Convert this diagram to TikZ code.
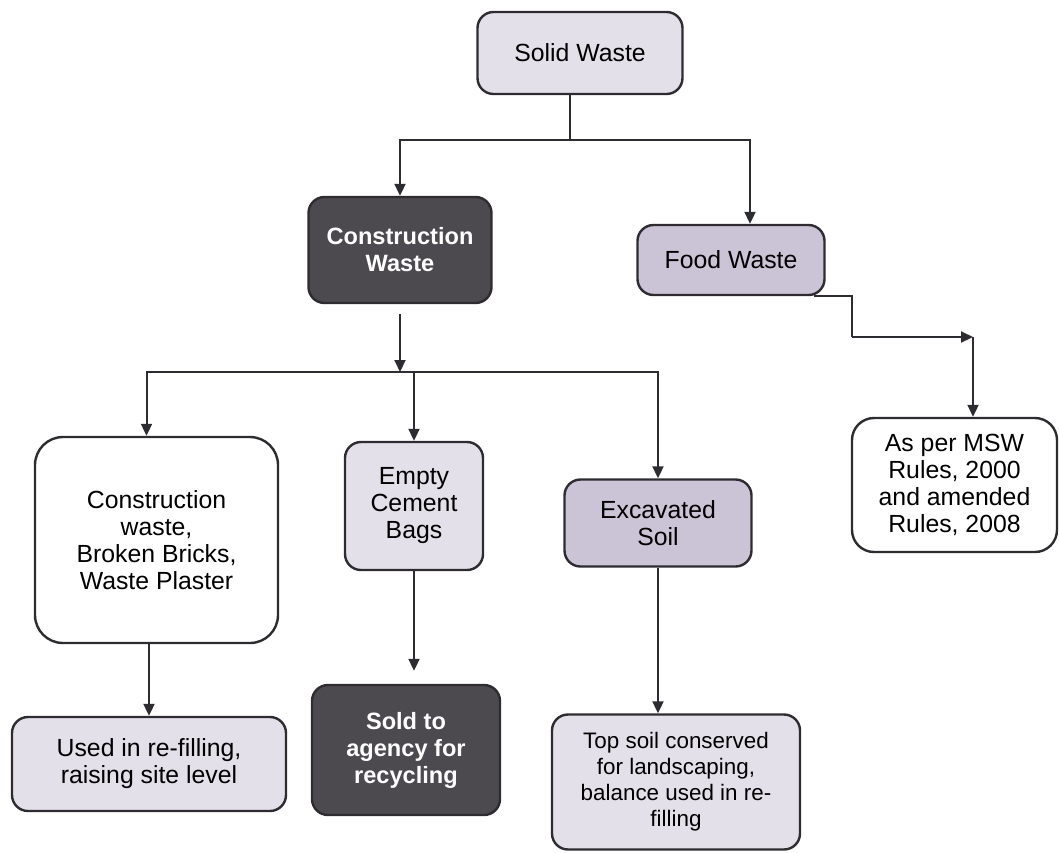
\documentclass[tikz,border=0pt]{standalone}
\usepackage{fontspec}
\setmainfont{Liberation Sans}
\usepackage{xcolor}
\usetikzlibrary{arrows.meta}
\definecolor{boxlight}{HTML}{E4E0EA}
\definecolor{boxmid}{HTML}{CBC3D6}
\definecolor{boxdark}{HTML}{4C4A4F}
\definecolor{boxline}{HTML}{2E2C30}
\tikzstyle{node:base}=[draw=boxline,line width=1.2pt,rounded corners=8pt,align=center,text=black,font=\fontsize{12.4}{13.5}\selectfont]
\tikzstyle{node:light}=[node:base,fill=boxlight]
\tikzstyle{node:medium}=[node:base,fill=boxmid]
\tikzstyle{node:dark}=[node:base,fill=boxdark,text=white,font=\fontsize{11.8}{13.5}\selectfont\bfseries]
\tikzstyle{node:plain}=[node:base,fill=white,rounded corners=14pt]
\tikzstyle{draw:line}=[line width=1pt,draw=boxline]
\tikzstyle{draw:connection}=[draw:line,-{Triangle[length=6pt,width=5.5pt]}]

\begin{document}
\begin{tikzpicture}[x=0.5pt,y=-0.5pt]
        \useasboundingbox (0,0) rectangle (1059,852);

        % Top level
        \node[node:light,minimum width=102.5pt,minimum height=41pt] (sw) at (580,53) {Solid Waste};

        % Kinds of waste
        \node[node:dark,minimum width=91.5pt,minimum height=53pt] (cw) at (400,250) {Construction\\Waste};
        \node[node:medium,minimum width=93.5pt,minimum height=35pt] (fw) at (731,260) {Food Waste};

        % Construction waste items
        \node[node:plain,minimum width=121.5pt,minimum height=103pt] (lb) at (156.5,540) {Construction\\waste,\\Broken Bricks,\\Waste Plaster};
        \node[node:light,minimum width=69pt,minimum height=64pt] (cb) at (414,506) {Empty\\Cement\\Bags};
        \node[node:medium,minimum width=93.5pt,minimum height=43.5pt] (es) at (658,523) {Excavated\\Soil};

        % Food waste rules
        \node[node:plain,rounded corners=11pt,minimum width=102.5pt,minimum height=67pt] (msw) at (954.5,485) {As per MSW\\Rules, 2000\\and amended\\Rules, 2008};

        % Disposal
        \node[node:light,minimum width=137pt,minimum height=47pt] (ub) at (149,764) {Used in re-filling,\\raising site level};
        \node[node:dark,minimum width=94pt,minimum height=65pt] (sa) at (406,750) {Sold to\\agency for\\recycling};
        \node[node:light,minimum width=124pt,minimum height=67.5pt,font=\fontsize{11.2}{13}\selectfont] (ts) at (676,782) {Top soil conserved\\for landscaping,\\balance used in re-\\filling};

        % Split points
        \coordinate (swsplit) at (570,140);
        \coordinate (cwsplit) at (400,372);
        \coordinate (fwbend) at (852,337);
        \coordinate (mswturn) at (973,337);

        % draw:connections from solid waste
        \draw[draw:line] (swsplit |- sw.south) -- (swsplit);
        \draw[draw:connection] (swsplit) -| (cw.north);
        \draw[draw:connection] (swsplit) -| ([xshift=9.5pt]fw.north);

        % draw:connections from construction waste
        \draw[draw:connection] ([yshift=-5pt]cw.south) -- (cwsplit);
        \draw[draw:connection] (cwsplit) -| ([xshift=-5pt]lb.north);
        \draw[draw:connection] (cwsplit) -| (cb.north);
        \draw[draw:connection] (cwsplit) -| (es.north);

        % draw:connections to disposal
        \draw[draw:connection] (lb.south -| ub.north) -- (ub.north);
        \draw[draw:connection,shorten >=6.5pt] (cb.south) -- (cb.south |- sa.north);
        \draw[draw:connection] (es.south) -- (es.south |- ts.north);

        % draw:connections from food waste
        \draw[draw:line] ([xshift=-6pt]fw.south east) -- (fwbend |- fw.south) -- (fwbend);
        \draw[draw:connection] (fwbend) -- (mswturn);
        \draw[draw:connection] (mswturn) -- (mswturn |- msw.north);

    \end{tikzpicture}
\end{document}
